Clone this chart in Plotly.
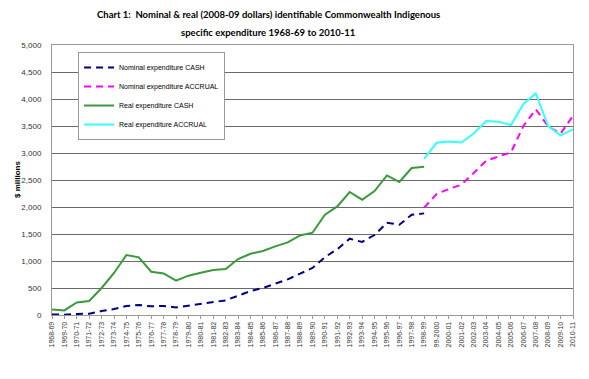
import plotly.graph_objects as go

years = ["1968-69","1969-70","1970-71","1971-72","1972-73","1973-74","1974-75","1975-76",
         "1976-77","1977-78","1978-79","1979-80","1980-81","1981-82","1982-83","1983-84",
         "1984-85","1985-86","1986-87","1987-88","1988-89","1989-90","1990-91","1991-92",
         "1992-93","1993-94","1994-95","1995-96","1996-97","1997-98","1998-99","99-2000",
         "2000-01","2001-02","2002-03","2003-04","2004-05","2005-06","2006-07","2007-08",
         "2008-09","2009-10","2010-11"]

N = None
nominal_cash = [10, 5, 18, 25, 74, 111, 167, 185, 160, 167, 141, 172, 204, 234, 271, 357,
                444, 500, 574, 660, 765, 870, 1070, 1220, 1413, 1352, 1481, 1709, 1672, 1857, 1882,
                N, N, N, N, N, N, N, N, N, N, N, N]
nominal_accrual = [N]*30 + [1987, 2241, 2333, 2413, 2630, 2857, 2937, 3011, 3500, 3809, 3494, 3358, 3690]
real_cash = [104, 85, 233, 259, 500, 778, 1111, 1067, 802, 770, 635, 728, 783, 833, 852, 1037,
             1135, 1185, 1270, 1344, 1474, 1524, 1857, 2011, 2278, 2135, 2296, 2585, 2463, 2722, 2746,
             N, N, N, N, N, N, N, N, N, N, N, N]
real_accrual = [N]*30 + [2893, 3189, 3213, 3194, 3361, 3593, 3580, 3519, 3907, 4104, 3500, 3327, 3438]

title_lines = ["Chart 1:  Nominal & real (2008-09 dollars) identifiable Commonwealth Indigenous",
               "specific expenditure 1968-69 to 2010-11"]
y_title = "$ millions"

fig = go.Figure()
fig.add_trace(go.Scatter(x=years, y=nominal_cash, name="Nominal expenditure CASH", mode="lines",
                         line=dict(color="#000080", width=2, dash="7px,5px")))
fig.add_trace(go.Scatter(x=years, y=nominal_accrual, name="Nominal expenditure ACCRUAL", mode="lines",
                         line=dict(color="#FF00FF", width=2, dash="7px,5px")))
fig.add_trace(go.Scatter(x=years, y=real_cash, name="Real expenditure CASH", mode="lines",
                         line=dict(color="#3A9A3A", width=2)))
fig.add_trace(go.Scatter(x=years, y=real_accrual, name="Real expenditure ACCRUAL", mode="lines",
                         line=dict(color="#33FFFF", width=2)))

# page has an 8px body margin; figure is 581x371 so the plot lands where the reference has it
for txt, ypx in zip(title_lines, [15, 32]):
    fig.add_annotation(text="<b>" + txt + "</b>", xref="paper", yref="paper",
                       x=(268 - 52) / 521, y=(315 - ypx) / 270, xanchor="center", yanchor="middle",
                       showarrow=False, font=dict(family="Lato, sans-serif", size=9.5, color="#000000"))

fig.add_annotation(text="<b>" + y_title + "</b>", xref="paper", yref="paper",
                   x=(17 - 52) / 521, y=0.5, xanchor="center", yanchor="middle", textangle=-90,
                   showarrow=False, font=dict(family="Liberation Sans, Arial, sans-serif", size=8, color="#000000"))

fig.update_layout(
    width=581, height=371,
    margin=dict(l=44, r=16, t=37, b=64, autoexpand=False),
    paper_bgcolor="white", plot_bgcolor="white",
    font=dict(family="Liberation Sans, Arial, sans-serif", color="#333333"),
    showlegend=True,
    legend=dict(x=0.05, y=0.974, xanchor="left", yanchor="top", bgcolor="white",
                bordercolor="#9a9a9a", borderwidth=1, font=dict(size=7, color="#000000"),
                tracegroupgap=0, itemwidth=30),
)
fig.update_xaxes(type="category", range=[0, 42], tickangle=-90, tickfont=dict(size=7, color="#333333"),
                 showline=True, linecolor="#9a9a9a", linewidth=1, mirror=True,
                 ticks="outside", ticklen=3, tickcolor="#9a9a9a", showgrid=False, automargin=False)
fig.update_yaxes(range=[0, 5000], dtick=500, tickformat=",", tickfont=dict(size=8, color="#333333"),
                 showline=True, linecolor="#9a9a9a", linewidth=1, mirror=True,
                 showgrid=True, gridcolor="#6a6a6a", gridwidth=1, zeroline=False,
                 ticks="", ticklabelstandoff=8, automargin=False)

fig.write_html("out.html")
